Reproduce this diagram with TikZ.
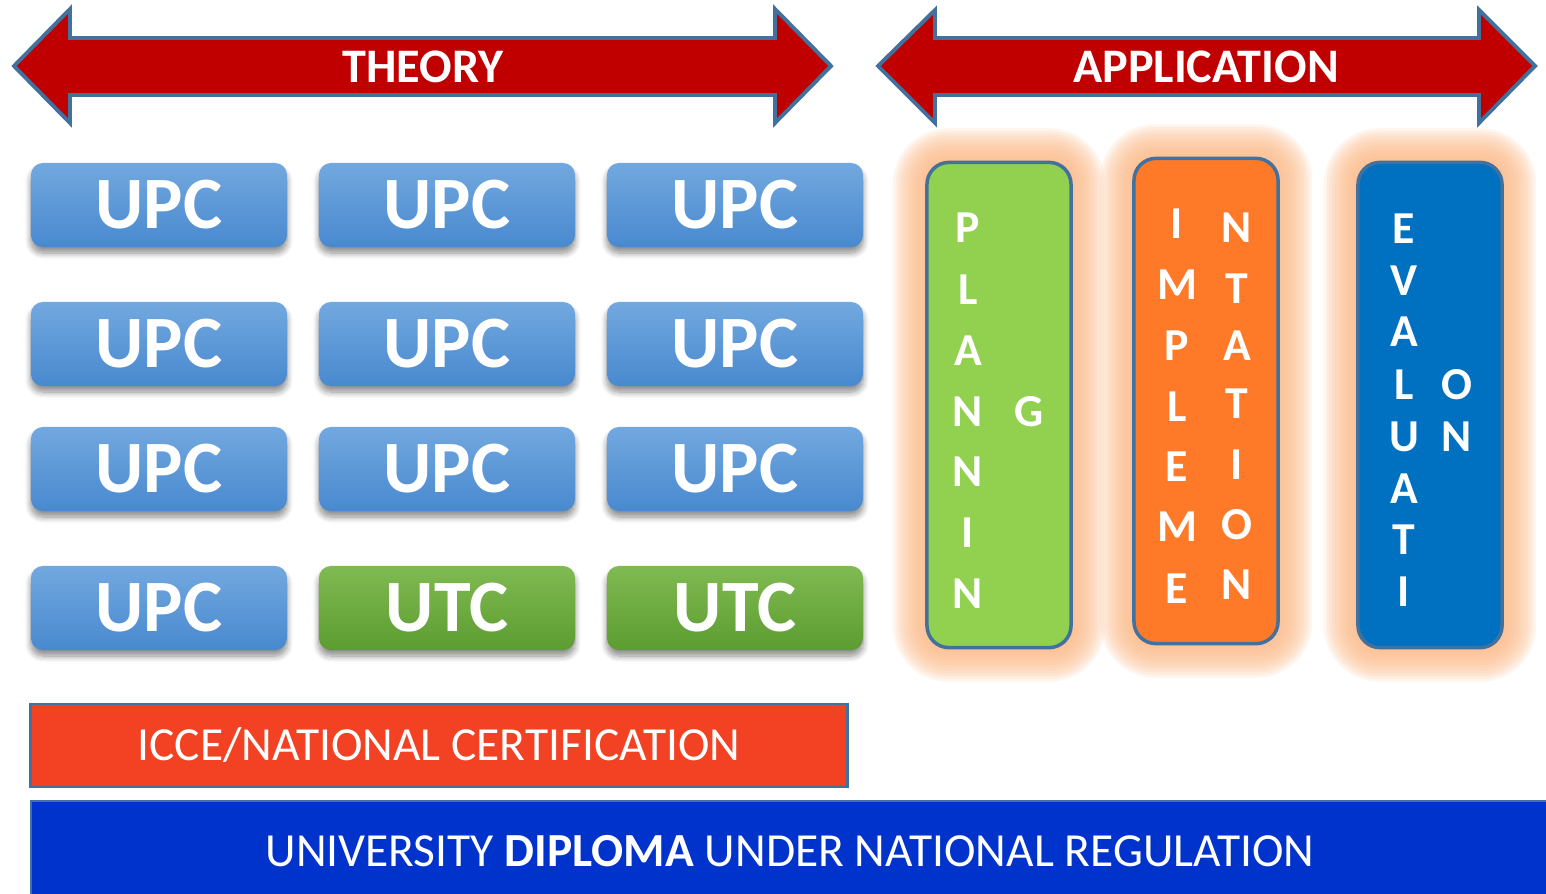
\documentclass[tikz,border=0pt]{standalone}
\usepackage{fontspec}
\setmainfont{Carlito}
\usetikzlibrary{shadows.blur,backgrounds}
\definecolor{arrowred}{HTML}{C00000}
\definecolor{edgeblue}{HTML}{41719C}
\definecolor{upctop}{HTML}{72A8DF}
\definecolor{upcbot}{HTML}{4889CF}
\definecolor{utctop}{HTML}{80BA52}
\definecolor{utcbot}{HTML}{5C9C30}
\definecolor{plangreen}{HTML}{92D050}
\definecolor{implorange}{HTML}{FF7A28}
\definecolor{evalblue}{HTML}{0070C0}
\definecolor{glowpeach}{HTML}{FBB987}
\definecolor{iccered}{HTML}{F24123}
\definecolor{diplblue}{HTML}{0033CC}
\begin{document}
\begin{tikzpicture}[x=0.01cm,y=-0.01cm,
    bigarrow/.style={fill=arrowred,draw=edgeblue,line width=1.1pt},
    arrowtext/.style={text=white,font=\fontsize{13.7}{13.7}\selectfont\bfseries},
    unitbox/.style={minimum width=2.56cm,minimum height=0.84cm,rounded corners=0.12cm,
      text=white,font=\fontsize{21}{21}\selectfont\bfseries,
      blur shadow={shadow xshift=0pt,shadow yshift=-0.06cm,shadow blur radius=0.06cm,
        shadow blur steps=8,shadow opacity=45}},
    upcbox/.style={unitbox,top color=upctop,bottom color=upcbot},
    utcbox/.style={unitbox,top color=utctop,bottom color=utcbot},
    column/.style={minimum width=1.44cm,minimum height=4.85cm,rounded corners=0.22cm,
      draw=edgeblue,line width=1pt},
    letter/.style={text=white,inner sep=0pt,font=\fontsize{13}{13}\selectfont\bfseries},
    bar/.style={draw=edgeblue,line width=0.8pt,text=white,font=\fontsize{13.5}{13.5}\selectfont}]
\useasboundingbox (0,0) rectangle (1546,893);

% top arrows
\draw[bigarrow] (14,66) -- (70,9) -- (70,38) -- (775,38) -- (775,9) -- (831,66)
  -- (775,123) -- (775,95) -- (70,95) -- (70,123) -- cycle;
\node[arrowtext] (theory) at (423,67) {THEORY};
\draw[bigarrow] (878,66) -- (935,10) -- (935,38) -- (1479,38) -- (1479,10) -- (1535,66)
  -- (1479,123) -- (1479,95) -- (935,95) -- (935,123) -- cycle;
\node[arrowtext] (application) at (1206,67) {APPLICATION};

% theory units
\foreach \row/\y in {1/205,2/344,3/469}
  \foreach \col/\x in {1/159,2/447,3/735}
    \node[upcbox] (upc-\row-\col) at (\x,\y) {UPC};
\node[upcbox] (upc-4-1) at (159,608) {UPC};
\node[utcbox] (utc-4-2) at (447,608) {UTC};
\node[utcbox] (utc-4-3) at (735,608) {UTC};

% application columns
\node[column,fill=plangreen] (plan) at (999,405) {};
\node[column,fill=implorange] (impl) at (1206,401) {};
\node[column,fill=evalblue] (eval) at (1430,405) {};
\begin{scope}[on background layer]
  \foreach \n in {plan,impl,eval}
    \foreach \i in {1,...,12}
      \fill[glowpeach,opacity=0.14,rounded corners=0.22cm+\i*0.028cm]
        ([shift={(-\i*2.7,-\i*2.7)}]\n.north west) rectangle ([shift={(\i*2.7,\i*2.7)}]\n.south east);
\end{scope}

\foreach \l/\y [count=\k] in {P/228,L/290,A/351,N/412,N/472,I/533,N/594}
  \node[letter] (plan-a\k) at (968,\y) {\l};
\node[letter] (plan-b1) at (1029,412) {G};
\foreach \l/\y [count=\k] in {I/224,M/285,P/346,L/407,E/467,M/527,E/589}
  \node[letter] (impl-a\k) at (1177,\y) {\l};
\foreach \l/\y [count=\k] in {N/228,T/289,A/346,T/404,I/465,O/525,N/585}
  \node[letter] (impl-b\k) at (1237,\y) {\l};
\foreach \l/\y [count=\k] in {E/229,V/281,A/332,L/385,U/437,A/489,T/540,I/592}
  \node[letter] (eval-a\k) at (1404,\y) {\l};
\node[letter] (eval-b1) at (1457,385) {O};
\node[letter] (eval-b2) at (1457,437) {N};

% bottom bars
\node[bar,fill=iccered,minimum width=8.16cm,minimum height=0.83cm] (icce) at (439,745.5)
  {ICCE/NATIONAL CERTIFICATION};
\draw[bar,fill=diplblue] (31,801) rectangle (1560,905);
\node[text=white,font=\fontsize{13.5}{13.5}\selectfont] (diploma) at (790,851)
  {UNIVERSITY \textbf{DIPLOMA} UNDER NATIONAL REGULATION};
\end{tikzpicture}
\end{document}
